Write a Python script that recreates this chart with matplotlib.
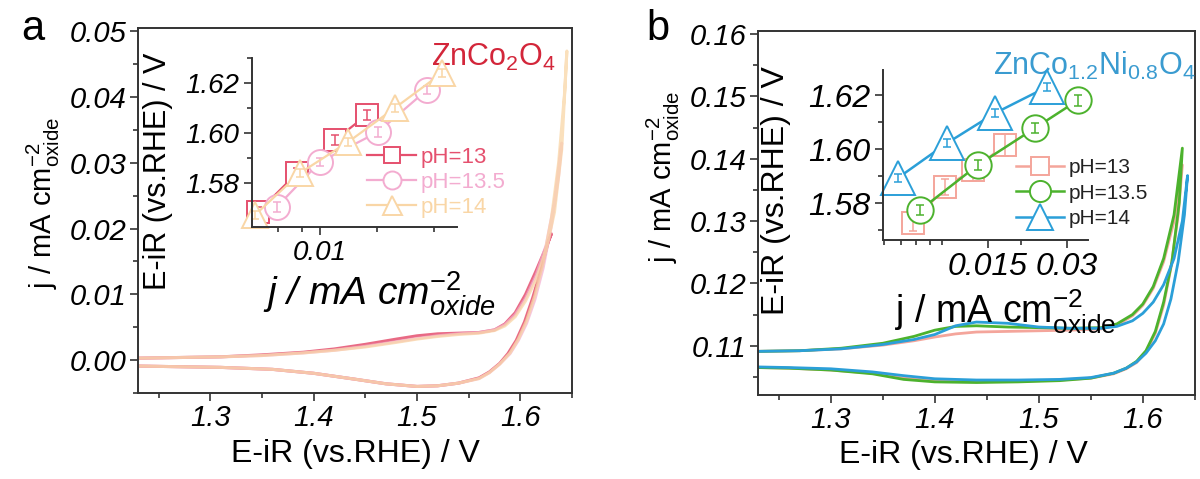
import matplotlib.pyplot as plt
from matplotlib.ticker import FixedLocator, NullFormatter, MultipleLocator

plt.rcParams['font.family'] = 'Liberation Sans'
plt.rcParams['mathtext.fontset'] = 'custom'
plt.rcParams['mathtext.rm'] = 'Liberation Sans'
plt.rcParams['mathtext.it'] = 'Liberation Sans:italic'
plt.rcParams['mathtext.bf'] = 'Liberation Sans:bold'

# ---- panel a: ZnCo2O4, CV loops (forward then reverse) ----
a13_E = [1.23, 1.27, 1.31, 1.35, 1.39, 1.42, 1.45, 1.48, 1.50, 1.52, 1.54, 1.56, 1.575, 1.585, 1.595,
         1.605, 1.615, 1.625, 1.630, 1.627, 1.62, 1.612, 1.604, 1.596, 1.588, 1.58, 1.57, 1.56, 1.54,
         1.52, 1.50, 1.47, 1.44, 1.40, 1.36, 1.31, 1.27, 1.23]
a13_j = [0.0003, 0.0004, 0.0005, 0.0008, 0.0012, 0.0017, 0.0024, 0.0032, 0.0037, 0.0040, 0.0041, 0.0042,
         0.0046, 0.0055, 0.0072, 0.0100, 0.0135, 0.0172, 0.0192, 0.0180, 0.0138, 0.0095, 0.0058, 0.0030,
         0.0010, -0.0005, -0.0018, -0.0027, -0.0035, -0.0039, -0.0040, -0.0036, -0.0029, -0.0020,
         -0.0014, -0.0011, -0.0010, -0.0009]
a135_E = [1.23, 1.27, 1.31, 1.35, 1.39, 1.42, 1.45, 1.48, 1.50, 1.52, 1.54, 1.56, 1.575, 1.585, 1.595,
          1.605, 1.615, 1.625, 1.633, 1.640, 1.637, 1.63, 1.622, 1.614, 1.606, 1.598, 1.59, 1.58, 1.57,
          1.56, 1.54, 1.52, 1.50, 1.47, 1.44, 1.40, 1.36, 1.31, 1.27, 1.23]
a135_j = [0.0003, 0.0004, 0.0005, 0.0007, 0.0011, 0.0015, 0.0021, 0.0028, 0.0033, 0.0037, 0.0040, 0.0042,
          0.0046, 0.0054, 0.0069, 0.0094, 0.0128, 0.0175, 0.0240, 0.0330, 0.0280, 0.0205, 0.0140, 0.0092,
          0.0056, 0.0030, 0.0010, -0.0006, -0.0019, -0.0028, -0.0035, -0.0039, -0.0040, -0.0036,
          -0.0029, -0.0020, -0.0014, -0.0011, -0.0010, -0.0009]
a14_E = [1.23, 1.27, 1.31, 1.35, 1.39, 1.42, 1.45, 1.48, 1.50, 1.52, 1.54, 1.56, 1.575, 1.585, 1.595,
         1.605, 1.615, 1.625, 1.633, 1.640, 1.645, 1.643, 1.637, 1.63, 1.622, 1.614, 1.606, 1.598, 1.59,
         1.58, 1.57, 1.56, 1.54, 1.52, 1.50, 1.47, 1.44, 1.40, 1.36, 1.31, 1.27, 1.23]
a14_j = [0.0003, 0.0004, 0.0005, 0.0007, 0.0011, 0.0015, 0.0020, 0.0027, 0.0032, 0.0036, 0.0039, 0.0041,
         0.0045, 0.0052, 0.0066, 0.0090, 0.0122, 0.0168, 0.0225, 0.0320, 0.0470, 0.0410, 0.0300, 0.0215,
         0.0148, 0.0098, 0.0060, 0.0032, 0.0011, -0.0006, -0.0019, -0.0028, -0.0035, -0.0039, -0.0040,
         -0.0036, -0.0029, -0.0020, -0.0014, -0.0011, -0.0010, -0.0009]

# panel a inset (Tafel)
ia13_x = [0.0047, 0.00756, 0.0120, 0.0177]
ia13_y = [1.5684, 1.584, 1.5972, 1.6072]
ia13_e = [0.002, 0.002, 0.002, 0.002]
ia135_x = [0.0059, 0.0100, 0.0203, 0.0368]
ia135_y = [1.5704, 1.5884, 1.6004, 1.6172]
ia135_e = [0.002, 0.0015, 0.002, 0.0015]
ia14_x = [0.00453, 0.00784, 0.0141, 0.0249, 0.0443]
ia14_y = [1.5672, 1.584, 1.5964, 1.610, 1.624]
ia14_e = [0.0015, 0.0015, 0.0015, 0.0015, 0.0015]

# ---- panel b: ZnCo1.2Ni0.8O4 ----
b13_E = [1.23, 1.27, 1.31, 1.35, 1.38, 1.40, 1.42, 1.44, 1.47, 1.50, 1.53, 1.56, 1.575, 1.59, 1.60,
         1.61, 1.62, 1.63, 1.638, 1.634, 1.627, 1.62, 1.612, 1.603, 1.594, 1.584, 1.572, 1.55, 1.52,
         1.48, 1.44, 1.40, 1.37, 1.34, 1.30, 1.26, 1.23]
b13_j = [0.1091, 0.1092, 0.1095, 0.1101, 0.1108, 0.1114, 0.1119, 0.1122, 0.1123, 0.1124, 0.1125, 0.1127,
         0.1133, 0.1148, 0.1165, 0.1192, 0.1235, 0.1300, 0.1390, 0.1310, 0.1225, 0.1165, 0.1120, 0.1090,
         0.1073, 0.1063, 0.1055, 0.1048, 0.1045, 0.1043, 0.1043, 0.1044, 0.1048, 0.1056, 0.1061, 0.1064,
         0.1065]
b135_E = [1.23, 1.27, 1.31, 1.35, 1.38, 1.40, 1.42, 1.44, 1.47, 1.50, 1.53, 1.56, 1.575, 1.59, 1.60,
          1.61, 1.62, 1.63, 1.638, 1.635, 1.628, 1.62, 1.612, 1.603, 1.594, 1.584, 1.572, 1.55, 1.52,
          1.48, 1.44, 1.40, 1.37, 1.34, 1.30, 1.26, 1.23]
b135_j = [0.1091, 0.1092, 0.1096, 0.1104, 0.1115, 0.1125, 0.1131, 0.1132, 0.1130, 0.1129, 0.1128, 0.1129,
          0.1135, 0.1150, 0.1167, 0.1195, 0.1240, 0.1310, 0.1417, 0.1330, 0.1235, 0.1170, 0.1123, 0.1092,
          0.1075, 0.1064, 0.1056, 0.1048, 0.1044, 0.1042, 0.1041, 0.1042, 0.1046, 0.1055, 0.1061, 0.1064,
          0.1065]
b14_E = [1.23, 1.27, 1.31, 1.35, 1.38, 1.40, 1.42, 1.44, 1.47, 1.50, 1.53, 1.56, 1.575, 1.59, 1.60,
         1.61, 1.62, 1.63, 1.638, 1.643, 1.640, 1.634, 1.627, 1.62, 1.612, 1.603, 1.594, 1.584, 1.572,
         1.55, 1.52, 1.48, 1.44, 1.40, 1.37, 1.34, 1.30, 1.26, 1.23]
b14_j = [0.1091, 0.1092, 0.1095, 0.1102, 0.1110, 0.1118, 0.1132, 0.1138, 0.1136, 0.1130, 0.1128, 0.1128,
         0.1131, 0.1140, 0.1152, 0.1170, 0.1198, 0.1240, 0.1300, 0.1373, 0.1310, 0.1235, 0.1175, 0.1135,
         0.1108, 0.1088, 0.1074, 0.1064, 0.1056, 0.1049, 0.1046, 0.1045, 0.1045, 0.1047, 0.1052, 0.1058,
         0.1063, 0.1065, 0.1066]

# panel b inset (Tafel)
ib13_x = [0.00776, 0.01028, 0.01315, 0.01742]
ib13_y = [1.5726, 1.5859, 1.5922, 1.6015]
ib13_e = [0.003, 0.003, 0.004, 0.004]
ib135_x = [0.00826, 0.01374, 0.0227, 0.0331]
ib135_y = [1.5774, 1.5941, 1.6078, 1.6181]
ib135_e = [0.002, 0.002, 0.002, 0.002]
ib14_x = [0.0068, 0.01047, 0.01596, 0.0252]
ib14_y = [1.5893, 1.6022, 1.6133, 1.623]
ib14_e = [0.0015, 0.0015, 0.0015, 0.0015]

labels = ['pH=13', 'pH=13.5', 'pH=14']
cols_a = ['#e5506e', '#f3acd0', '#f9d6a6']
cols_b = ['#f4a59b', '#4cb22d', '#2b9fd8']

spine_c = '#333333'


def style_main(ax, ylim, yt, ymaj):
    ax.set_xlim(1.23, 1.65)
    ax.set_ylim(*ylim)
    xt = [1.3, 1.4, 1.5, 1.6]
    ax.set_xticks(xt)
    ax.set_xticklabels([f'{v:.1f}' for v in xt], fontstyle='italic')
    ax.set_yticks(yt)
    ax.set_yticklabels([f'{v:.2f}' for v in yt], fontstyle='italic')
    ax.xaxis.set_minor_locator(MultipleLocator(0.05))
    ax.yaxis.set_minor_locator(MultipleLocator(ymaj / 2))
    ax.tick_params(which='both', direction='out', width=1.2, color=spine_c, labelsize=21, pad=2)
    ax.tick_params(which='major', length=6)
    ax.tick_params(which='minor', length=3.5)
    for s in ax.spines.values():
        s.set_color(spine_c)
        s.set_linewidth(1.4)
    ax.set_xlabel('E-iR (vs.RHE) / V', fontsize=23)
    ax.set_ylabel(r'j / mA cm$^{-2}_{\mathrm{oxide}}$', fontsize=21)


def style_inset(ax, xlim, ylim, xmaj, xlab, xminor, lsize):
    ax.set_facecolor('none')
    ax.set_xscale('log')
    ax.set_xlim(*xlim)
    ax.set_ylim(*ylim)
    ax.spines['top'].set_visible(False)
    ax.spines['right'].set_visible(False)
    for s in ['left', 'bottom']:
        ax.spines[s].set_color(spine_c)
        ax.spines[s].set_linewidth(1.4)
    ax.set_xticks(xmaj)
    ax.set_xticklabels(xlab, fontstyle='italic')
    ax.xaxis.set_minor_locator(FixedLocator(xminor))
    ax.xaxis.set_minor_formatter(NullFormatter())
    yt = [1.58, 1.60, 1.62]
    ax.set_yticks(yt)
    ax.set_yticklabels([f'{v:.2f}' for v in yt], fontstyle='italic')
    ax.yaxis.set_minor_locator(MultipleLocator(0.01))
    ax.tick_params(which='both', direction='out', width=1.2, color=spine_c, labelsize=lsize, pad=3)
    ax.tick_params(which='major', length=6)
    ax.tick_params(which='minor', length=3.5)


fig = plt.figure(figsize=(12, 4.79), dpi=100)

# ---------------- panel a ----------------
axa = fig.add_axes([0.115, 0.1795, 0.3617, 0.762])
for E, j, c, al in zip([a13_E, a135_E, a14_E], [a13_j, a135_j, a14_j], cols_a, [0.85, 0.7, 0.75]):
    axa.plot(E, j, color=c, lw=2.2, alpha=al, solid_joinstyle='round')
style_main(axa, (-0.005, 0.0505), [0.0, 0.01, 0.02, 0.03, 0.04, 0.05], 0.01)
axa.xaxis.set_label_coords(0.5, -0.125)
axa.yaxis.set_label_coords(-0.175, 0.52)
axa.text(0.962, 0.92, r'ZnCo$_2$O$_4$', transform=axa.transAxes, ha='right', va='center',
         fontsize=22, color='#d3263a')
fig.text(0.027, 0.94, 'a', fontsize=30, ha='center', va='center')

ina = fig.add_axes([0.21, 0.526, 0.1708, 0.353])
style_inset(ina, (0.00437, 0.0531), (1.5624, 1.630), [0.01], ['0.01'],
            [0.006, 0.008, 0.02, 0.04], 20)
mk_a = [('s', 16), ('o', 18), ('^', 19)]
for (x, y, e), c, (m, ms), lab in zip([(ia13_x, ia13_y, ia13_e), (ia135_x, ia135_y, ia135_e),
                                        (ia14_x, ia14_y, ia14_e)], cols_a, mk_a, labels):
    ina.plot(x, y, '-', color=c, lw=1.6, marker=m, ms=ms, mfc='white', mec=c, mew=1.4,
             label=lab, clip_on=False)
    ina.errorbar(x, y, yerr=e, fmt='none', ecolor=c, elinewidth=1.1, capsize=3, capthick=1.1,
                 clip_on=False)
ina.set_ylabel('E-iR (vs.RHE) / V', fontsize=22)
ina.yaxis.set_label_coords(-0.385, 0.33)
ina.set_xlabel(r'j / mA cm$^{\mathit{-2}}_{oxide}$', fontsize=28, fontstyle='italic')
ina.xaxis.set_label_coords(0.62, -0.25)
leg = ina.legend(loc='center left', bbox_to_anchor=(0.306, 0.62), bbox_transform=fig.transFigure,
                 frameon=False, fontsize=16, borderpad=0, borderaxespad=0, handlelength=2.2,
                 handletextpad=0.2, labelspacing=0.18, markerscale=0.72)
for t, c in zip(leg.get_texts(), cols_a):
    t.set_color(c)

# ---------------- panel b ----------------
axb = fig.add_axes([0.6317, 0.1754, 0.364, 0.76])
for E, j, c in zip([b13_E, b135_E, b14_E], [b13_j, b135_j, b14_j], cols_b):
    axb.plot(E, j, color=c, lw=2.0, solid_joinstyle='round')
style_main(axb, (0.1021, 0.1605), [0.11, 0.12, 0.13, 0.14, 0.15, 0.16], 0.01)
axb.xaxis.set_label_coords(0.47, -0.125)
axb.yaxis.set_label_coords(-0.175, 0.6)
axb.text(1.0, 0.905, r'ZnCo$_{1.2}$Ni$_{0.8}$O$_4$', transform=axb.transAxes, ha='right',
         va='center', fontsize=22, color='#3a9bd0')
fig.text(0.548, 0.94, 'b', fontsize=30, ha='center', va='center')

inb = fig.add_axes([0.7358, 0.499, 0.1708, 0.355])
style_inset(inb, (0.00596, 0.0361), (1.5663, 1.6293), [0.015, 0.03], ['0.015', '0.03'],
            [0.006, 0.007, 0.008, 0.009, 0.01, 0.02], 23)
mk_b = [('s', 16), ('o', 19), ('^', 24)]
for (x, y, e), c, (m, ms), lab in zip([(ib13_x, ib13_y, ib13_e), (ib135_x, ib135_y, ib135_e),
                                        (ib14_x, ib14_y, ib14_e)], cols_b, mk_b, labels):
    inb.plot(x, y, '-', color=c, lw=1.8, marker=m, ms=ms, mfc='white', mec=c, mew=1.4,
             label=lab, clip_on=False)
    inb.errorbar(x, y, yerr=e, fmt='none', ecolor=c, elinewidth=1.1, capsize=3, capthick=1.1,
                 clip_on=False)
inb.set_ylabel('E-iR (vs.RHE) / V', fontsize=23)
inb.yaxis.set_label_coords(-0.45, 0.29)
inb.set_xlabel(r'j / mA cm$^{-2}_{\mathrm{oxide}}$', fontsize=27)
inb.xaxis.set_label_coords(0.6, -0.28)
legb = inb.legend(loc='center left', bbox_to_anchor=(0.847, 0.597), bbox_transform=fig.transFigure,
                  frameon=False, fontsize=15, borderpad=0, borderaxespad=0, handlelength=2.3,
                  handletextpad=0.2, labelspacing=0.32, markerscale=0.8)
for t in legb.get_texts():
    t.set_color('#222222')

fig.savefig('out.png', dpi=100)
